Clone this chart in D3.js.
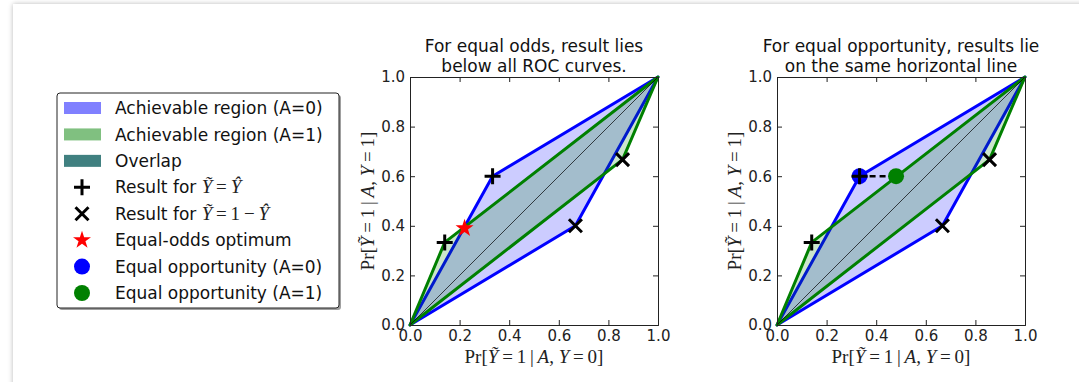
<!DOCTYPE html>
<html>
<head>
<meta charset="utf-8">
<script src="https://cdn.jsdelivr.net/npm/d3@7"></script>
<style>
    body { margin: 0; background: #ffffff; }
    #card {
        position: absolute; left: 13px; top: 4px; width: 1100px; height: 420px;
        background: #ffffff; box-shadow: 0 0 5px rgba(0,0,0,0.28);
    }
    #chart { position: absolute; left: 0; top: 0; }
    .tick text { font-family: "DejaVu Sans"; font-size: 15px; fill: #222; }
    .title { font-family: "DejaVu Sans"; font-size: 17px; fill: #111; }
    .legendText { font-family: "DejaVu Sans"; font-size: 17px; fill: #111; }
    .mathLabel { font-family: "Liberation Serif", serif; font-size: 19px; fill: #222; }
</style>
</head>
<body>
<div id="card"></div>
<div id="chart"></div>
<script>

// data
const tickValues = [0, 0.2, 0.4, 0.6, 0.8, 1.0];
const rocA0 = [[0, 0], [0.333, 0.6], [1, 1], [0.667, 0.4]];
const rocA1 = [[0, 0], [0.14, 0.333], [1, 1], [0.857, 0.667]];
const diagonal = [[0, 0], [1, 1]];
const plusPts = [[0.333, 0.6], [0.14, 0.333]];
const crossPts = [[0.667, 0.4], [0.857, 0.667]];
const oddsOptimum = [[0.22, 0.39]];
const oppA0 = [[0.333, 0.6]];
const oppA1 = [[0.48, 0.6]];

const titles = [
    ["For equal odds, result lies", "below all ROC curves."],
    ["For equal opportunity, results lie", "on the same horizontal line"]
];

const legendLabels = [
    "Achievable region (A=0)",
    "Achievable region (A=1)",
    "Overlap",
    "Result for ",
    "Result for ",
    "Equal-odds optimum",
    "Equal opportunity (A=0)",
    "Equal opportunity (A=1)"
];

const width = 1079;
const height = 382;

const svg = d3.select("#chart")
    .append("svg")
    .attr("width", width)
    .attr("height", height);

const plusPath = "M-8,0H8M0,-8V8";
const crossPath = "M-6.5,-6.5L6.5,6.5M-6.5,6.5L6.5,-6.5";

/*
LEGEND
*/
const legend = svg.append("g");
legend.append("rect")
    .attr("x", 59).attr("y", 95)
    .attr("width", 282).attr("height", 215)
    .attr("rx", 3)
    .attr("fill", "#a0a0a0");
legend.append("rect")
    .attr("x", 57).attr("y", 93)
    .attr("width", 282).attr("height", 215)
    .attr("rx", 3)
    .attr("fill", "white")
    .attr("stroke", "#222")
    .attr("stroke-width", 1);

const legendY = d3.scalePoint()
    .domain(d3.range(legendLabels.length))
    .range([108, 293]);

const patchColors = ["#8080ff", "#80c080", "#408080"];
patchColors.forEach(function (c, i) {
    legend.append("rect")
        .attr("x", 64).attr("y", legendY(i) - 6)
        .attr("width", 37).attr("height", 12)
        .attr("fill", c);
});

legend.append("path").attr("d", plusPath)
    .attr("transform", `translate(82,${legendY(3)})`)
    .attr("stroke", "black").attr("stroke-width", 3);
legend.append("path").attr("d", crossPath)
    .attr("transform", `translate(82,${legendY(4)})`)
    .attr("stroke", "black").attr("stroke-width", 3);
legend.append("path").attr("d", d3.symbol(d3.symbolStar, 100)())
    .attr("transform", `translate(82,${legendY(5)})`)
    .attr("fill", "red");
legend.append("circle").attr("cx", 82).attr("cy", legendY(6)).attr("r", 8).attr("fill", "blue");
legend.append("circle").attr("cx", 82).attr("cy", legendY(7)).attr("r", 8).attr("fill", "green");

legendLabels.forEach(function (label, i) {
    const t = legend.append("text")
        .attr("class", "legendText")
        .attr("x", 115)
        .attr("y", legendY(i))
        .attr("dy", "0.36em")
        .text(label);
    if (i === 3 || i === 4) {
        const m = t.append("tspan").attr("font-family", "Liberation Serif").attr("font-size", "19px").attr("fill", "#222");
        m.append("tspan").attr("font-style", "italic").text("Ỹ");
        m.append("tspan").text(i === 3 ? "\u2009=\u2009" : "\u2009=\u20091\u2009\u2212\u2009");
        m.append("tspan").attr("font-style", "italic").text("Ŷ");
    }
});

/*
PANELS
*/
const panels = [{ left: 410, title: titles[0] }, { left: 777, title: titles[1] }];
const plotTop = 77, size = 248;

function mathLabel(g, given) {
    g.append("tspan").text("Pr[");
    g.append("tspan").attr("font-style", "italic").text("Ỹ");
    g.append("tspan").text("\u2009=\u20091\u2009|\u2009");
    g.append("tspan").attr("font-style", "italic").text("A");
    g.append("tspan").text(", ");
    g.append("tspan").attr("font-style", "italic").text("Y");
    g.append("tspan").text("\u2009=\u2009" + given + "]");
}

panels.forEach(function (p, k) {
    const xScale = d3.scaleLinear().domain([0, 1]).range([p.left, p.left + size]);
    const yScale = d3.scaleLinear().domain([0, 1]).range([plotTop + size, plotTop]);
    const line = d3.line().x(d => xScale(d[0])).y(d => yScale(d[1]));
    const g = svg.append("g");

    // regions
    g.append("path").datum(rocA0)
        .attr("d", d => line(d) + "Z")
        .attr("fill", "rgba(0,0,255,0.2)")
        .attr("stroke", "blue").attr("stroke-width", 3)
        .attr("stroke-linejoin", "round");
    g.append("path").datum(rocA1)
        .attr("d", d => line(d) + "Z")
        .attr("fill", "rgba(0,128,0,0.2)")
        .attr("stroke", "green").attr("stroke-width", 3)
        .attr("stroke-linejoin", "round");
    g.append("path").datum(diagonal)
        .attr("d", line)
        .attr("stroke", "black").attr("stroke-width", 0.7)
        .attr("fill", "none");

    // axes (ticks inside, matplotlib classic)
    g.append("g")
        .attr("transform", `translate(0,${plotTop + size})`)
        .call(d3.axisBottom(xScale).tickValues(tickValues).tickFormat(d3.format(".1f")).tickSize(-5).tickPadding(5));
    g.append("g")
        .attr("transform", `translate(${p.left},0)`)
        .call(d3.axisLeft(yScale).tickValues(tickValues).tickFormat(d3.format(".1f")).tickSize(-5).tickPadding(5));
    g.append("g")
        .attr("transform", `translate(0,${plotTop})`)
        .call(d3.axisTop(xScale).tickValues(tickValues).tickFormat("").tickSize(-5));
    g.append("g")
        .attr("transform", `translate(${p.left + size},0)`)
        .call(d3.axisRight(yScale).tickValues(tickValues).tickFormat("").tickSize(-5));
    g.selectAll(".domain").attr("stroke", "#222").attr("stroke-width", 1);
    g.selectAll(".tick line").attr("stroke", "#222");

    // markers
    if (k === 1) {
        g.append("path").datum([oppA0[0], oppA1[0]])
            .attr("d", line)
            .attr("stroke", "black").attr("stroke-width", 2.6)
            .attr("stroke-dasharray", "6,4");
        g.selectAll(".oppA0").data(oppA0).enter().append("circle")
            .attr("cx", d => xScale(d[0])).attr("cy", d => yScale(d[1]))
            .attr("r", 8).attr("fill", "blue");
        g.selectAll(".oppA1").data(oppA1).enter().append("circle")
            .attr("cx", d => xScale(d[0])).attr("cy", d => yScale(d[1]))
            .attr("r", 8).attr("fill", "green");
    }
    g.selectAll(".plus").data(plusPts).enter().append("path")
        .attr("d", plusPath)
        .attr("transform", d => `translate(${xScale(d[0])},${yScale(d[1])})`)
        .attr("stroke", "black").attr("stroke-width", 3);
    g.selectAll(".cross").data(crossPts).enter().append("path")
        .attr("d", crossPath)
        .attr("transform", d => `translate(${xScale(d[0])},${yScale(d[1])})`)
        .attr("stroke", "black").attr("stroke-width", 3);
    if (k === 0) {
        g.selectAll(".star").data(oddsOptimum).enter().append("path")
            .attr("d", d3.symbol(d3.symbolStar, 100)())
            .attr("transform", d => `translate(${xScale(d[0])},${yScale(d[1])})`)
            .attr("fill", "red");
    }

    // titles
    p.title.forEach(function (t, j) {
        g.append("text")
            .attr("class", "title")
            .attr("x", p.left + size / 2)
            .attr("y", 52 + j * 20)
            .attr("text-anchor", "middle")
            .text(t);
    });

    // axis labels
    const xl = g.append("text")
        .attr("class", "mathLabel")
        .attr("x", p.left + size / 2)
        .attr("y", 363)
        .attr("text-anchor", "middle");
    mathLabel(xl, "0");
    const yl = g.append("text")
        .attr("class", "mathLabel")
        .attr("transform", `translate(${p.left - 36},${plotTop + size / 2}) rotate(-90)`)
        .attr("text-anchor", "middle");
    mathLabel(yl, "1");
});

</script>
</body>
</html>
